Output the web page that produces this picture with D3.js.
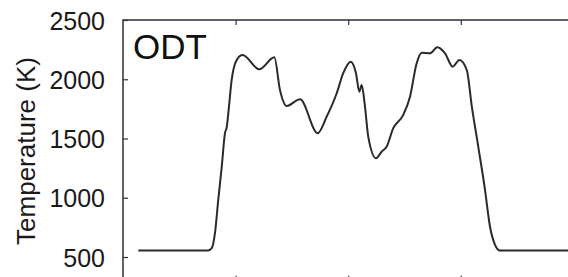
<!DOCTYPE html>
<html>
<head>
<meta charset="utf-8">
<script src="https://cdn.jsdelivr.net/npm/d3@7"></script>
<style>
  body { margin: 0; background: #fff; }
  svg { display: block; font-family: "Liberation Sans", Arial, Helvetica, sans-serif; }
</style>
</head>
<body>
<div class="chart"></div>
<script>
// ODT temperature profile
var w = 568, h = 277;

var xVals = [0.136, 0.755, 0.788, 0.817, 0.846, 0.877, 0.906, 0.921, 0.941, 0.965,
             1.010, 1.063, 1.210, 1.344, 1.394, 1.454, 1.572, 1.729, 1.809, 1.898,
             1.956, 2.022, 2.069, 2.099, 2.120, 2.149, 2.178, 2.247, 2.298, 2.342,
             2.400, 2.489, 2.549, 2.608, 2.653, 2.726, 2.791, 2.860, 2.928, 2.987,
             3.053, 3.098, 3.155, 3.215, 3.259, 3.304, 3.348, 3.952];
var tempVals = [555, 555, 575, 704, 982, 1263, 1547, 1595, 1769, 1994,
                2163, 2205, 2084, 2185, 1910, 1775, 1831, 1545, 1685, 1882,
                2051, 2148, 2051, 1895, 1952, 1769, 1516, 1334, 1390, 1432,
                1587, 1699, 1853, 2135, 2224, 2219, 2270, 2219, 2106, 2163,
                2078, 1769, 1432, 1067, 757, 603, 555, 555];
var yTicks = [500, 1000, 1500, 2000, 2500];
var xTicks = [1, 2, 3];

// plot box (window.top is reserved, so use other names)
var padL = 123, padT = 20, padR = 573.4, padB = 280.7;

var x = d3.scaleLinear().domain([0, 4]).range([padL, padR]);
var y = d3.scaleLinear().domain([300, 2500]).range([padB, padT]);

var svg = d3.select(".chart")
    .append("svg")
    .attr("width", w)
    .attr("height", h);

// axes, ticks pointing inward
var yAxis = svg.append("g")
    .attr("transform", "translate(" + padL + ",0)")
    .call(d3.axisLeft(y).tickValues(yTicks).tickSize(-5).tickPadding(18).tickFormat(d3.format("d")));
yAxis.select(".domain").remove();
yAxis.selectAll("line").attr("stroke", "#333").attr("stroke-width", 1.2);
yAxis.selectAll("text")
    .attr("font-size", 25)
    .attr("font-family", "Liberation Sans, Arial, sans-serif")
    .attr("fill", "#1a1a1a")
    .attr("dy", "0.36em");

var topAxis = svg.append("g")
    .attr("transform", "translate(0," + padT + ")")
    .call(d3.axisTop(x).tickValues(xTicks).tickSize(-5).tickFormat(""));
var botAxis = svg.append("g")
    .attr("transform", "translate(0," + padB + ")")
    .call(d3.axisBottom(x).tickValues(xTicks).tickSize(-5).tickFormat(""));
var rightAxis = svg.append("g")
    .attr("transform", "translate(" + padR + ",0)")
    .call(d3.axisRight(y).tickValues(yTicks).tickSize(-5).tickFormat(""));

[topAxis, botAxis, rightAxis].forEach(function(g) {
    g.select(".domain").remove();
    g.selectAll("line").attr("stroke", "#333").attr("stroke-width", 1.2);
});
rightAxis.selectAll("line").attr("stroke", "#bbb");

// frame
svg.append("rect")
    .attr("x", padL)
    .attr("y", padT)
    .attr("width", padR - padL)
    .attr("height", padB - padT)
    .attr("fill", "none")
    .attr("stroke", "#2e2e38")
    .attr("stroke-width", 1.5);

// curve
var line = d3.line()
    .x(function(d) { return x(d[0]); })
    .y(function(d) { return y(d[1]); })
    .curve(d3.curveMonotoneX);

svg.append("path")
    .datum(d3.zip(xVals, tempVals))
    .attr("d", line)
    .attr("fill", "none")
    .attr("stroke", "#2a2a2a")
    .attr("stroke-width", 2)
    .attr("stroke-linejoin", "round");

// labels
svg.append("text")
    .attr("x", 133)
    .attr("y", 58.5)
    .attr("font-size", 35)
    .attr("fill", "#111")
    .text("ODT");

svg.append("text")
    .attr("transform", "translate(35,151) rotate(-90)")
    .attr("text-anchor", "middle")
    .attr("font-size", 26)
    .attr("fill", "#1a1a1a")
    .text("Temperature (K)");
</script>
</body>
</html>
